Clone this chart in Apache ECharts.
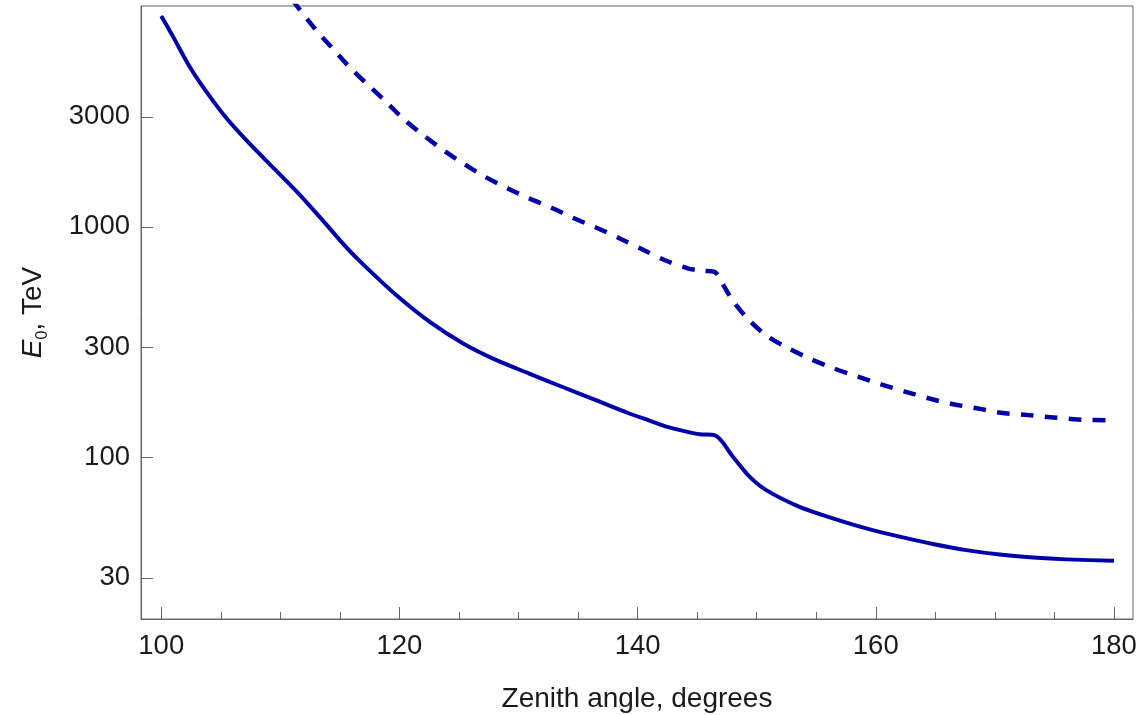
<!DOCTYPE html>
<html>
<head>
<meta charset="utf-8">
<script src="https://cdn.jsdelivr.net/npm/echarts@6/dist/echarts.min.js"></script>
<style>
  html, body { margin: 0; padding: 0; background: #ffffff; }
  #chart { width: 1147px; height: 715px; }
</style>
</head>
<body>
<div id="chart"></div>
<script>
// Threshold energy E0 (TeV) versus zenith angle (degrees)
const solidAngle = [100, 101, 102.4, 103.8, 105.5, 107.4, 109.4, 111.4, 113.3, 114.2, 115.6, 117.0,
  119.75, 122.55, 125.35, 128.15, 130.9, 133.7, 136.5, 139.3, 141.0, 142.5, 144.0, 145.2, 146.5,
  148.0, 149.4, 150.8, 153.6, 156.4, 159.2, 162.0, 164.8, 167.6, 170.4, 173.2, 176.0, 180.0];
const solidE = [8225, 6670, 4940, 3850, 2950, 2300, 1807, 1418, 1105, 977, 809, 684,
  505, 387, 312, 264, 231, 202, 177, 155, 144.5, 135.5, 129.7, 126, 124.5,
  100.7, 82.5, 72.1, 61.0, 54.4, 49.2, 45.3, 42.1, 39.6, 37.9, 36.8, 36.1, 35.6];

const dashedAngle = [111.0, 113.0, 114.4, 115.8, 117.4, 118.9, 120.3, 122.0, 123.7, 125.35, 127.2,
  129.1, 130.9, 132.9, 134.7, 136.5, 138.5, 140.5, 142.4, 144.2, 145.5, 146.5, 147.2, 148.0,
  149.3, 150.9, 152.8, 154.6, 156.5, 158.5, 160.5, 162.6, 164.5, 166.5, 168.6, 170.5, 172.8,
  174.9, 177.0, 180.0];
const dashedE = [9640, 7130, 5940, 4940, 4110, 3480, 2950, 2500, 2150, 1885, 1648,
  1468, 1329, 1202, 1087, 994, 891, 793, 713, 661, 645, 636, 559, 478,
  397, 335, 295, 266, 243, 224, 207, 192, 180, 170, 163, 156, 152.5,
  149, 146, 144.5];

const xMajorTicks = [100, 120, 140, 160, 180];
const xMinorTicks = [105, 110, 115, 125, 130, 135, 145, 150, 155, 165, 170, 175];
const yTicks = [30, 100, 300, 1000, 3000];

const pair = (xs, ys) => xs.map((x, i) => [x, ys[i]]);

const FONT = '"Liberation Sans", Arial, sans-serif';
const AXIS_COLOR = '#666666';
const TEXT_COLOR = '#1a1a1a';
const LINE_COLOR = '#0000a8';

const chart = echarts.init(document.getElementById('chart'), null, { renderer: 'canvas' });

chart.setOption({
  animation: false,
  backgroundColor: '#ffffff',
  grid: {
    left: 141, right: 14, top: 6, bottom: 96,
    outerBoundsMode: 'none', containLabel: false,
    show: true, borderColor: AXIS_COLOR, borderWidth: 1, backgroundColor: 'transparent'
  },
  xAxis: [
    {
      type: 'value', min: 98.3, max: 181.6, position: 'bottom',
      name: 'Zenith angle, degrees', nameLocation: 'middle', nameGap: 66,
      nameTextStyle: { fontFamily: FONT, fontSize: 28, color: TEXT_COLOR },
      axisLine: { show: true, onZero: false, lineStyle: { color: AXIS_COLOR, width: 1 } },
      axisTick: { show: true, inside: true, length: 12, customValues: xMajorTicks,
        lineStyle: { color: AXIS_COLOR, width: 1 } },
      axisLabel: { show: true, customValues: xMajorTicks, margin: 13,
        fontFamily: FONT, fontSize: 27.5, color: TEXT_COLOR,
        formatter: v => String(Math.round(v)) },
      splitLine: { show: false }
    },
    {
      type: 'value', min: 98.3, max: 181.6, position: 'bottom',
      axisLine: { show: false },
      axisTick: { show: true, inside: true, length: 7, customValues: xMinorTicks,
        lineStyle: { color: AXIS_COLOR, width: 1 } },
      axisLabel: { show: false },
      splitLine: { show: false }
    }
  ],
  yAxis: {
    type: 'log', logBase: 10, min: 19.9, max: 9080,
    name: '{i|E}{s|0}{n|, TeV}', nameLocation: 'middle', nameGap: 90,
    nameTextStyle: {
      rich: {
        i: { fontFamily: FONT, fontSize: 28, fontStyle: 'italic', color: TEXT_COLOR, lineHeight: 36 },
        s: { fontFamily: FONT, fontSize: 16, color: TEXT_COLOR, lineHeight: 16, verticalAlign: 'bottom' },
        n: { fontFamily: FONT, fontSize: 28, color: TEXT_COLOR, lineHeight: 36 }
      }
    },
    axisLine: { show: true, onZero: false, lineStyle: { color: AXIS_COLOR, width: 1 } },
    axisTick: { show: true, inside: true, length: 12, customValues: yTicks,
      lineStyle: { color: AXIS_COLOR, width: 1 } },
    axisLabel: { show: true, customValues: yTicks, margin: 11,
      fontFamily: FONT, fontSize: 27.5, color: TEXT_COLOR,
      formatter: v => String(Math.round(v)) },
    splitLine: { show: false },
    minorTick: { show: false }
  },
  series: [
    {
      type: 'line', xAxisIndex: 0, yAxisIndex: 0,
      data: pair(solidAngle, solidE),
      showSymbol: false, smooth: 0.3, clip: true,
      lineStyle: { color: LINE_COLOR, width: 4, cap: 'butt', join: 'round' }
    },
    {
      type: 'line', xAxisIndex: 0, yAxisIndex: 0,
      data: pair(dashedAngle, dashedE),
      showSymbol: false, smooth: 0.3, clip: true,
      lineStyle: { color: LINE_COLOR, width: 4.5, type: [13, 11], cap: 'butt', join: 'round' }
    }
  ]
});
</script>
</body>
</html>
